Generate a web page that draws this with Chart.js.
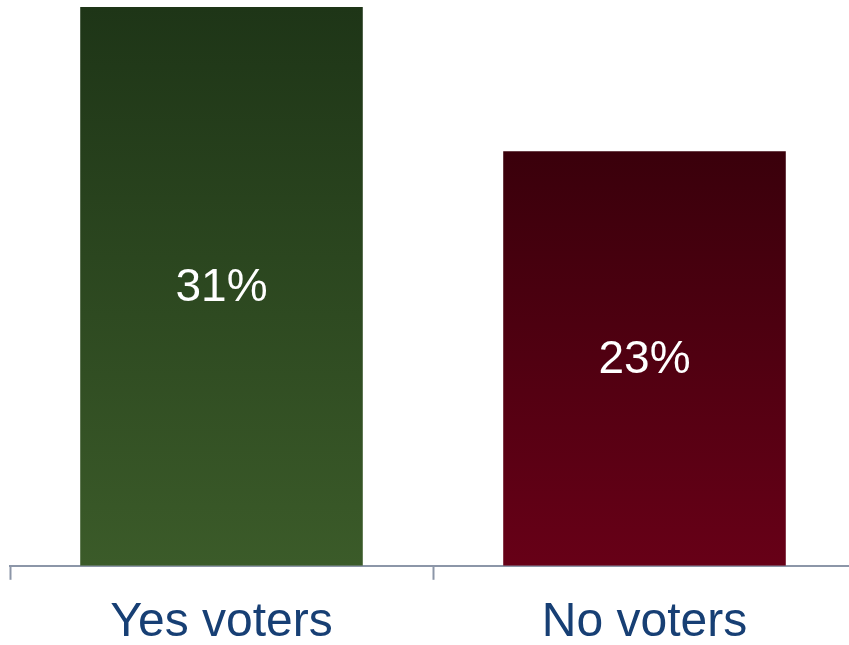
<!DOCTYPE html>
<html><head><meta charset="utf-8">
<script src="https://cdn.jsdelivr.net/npm/chart.js@4"></script>
<style>
html,body{margin:0;padding:0;background:#fff;overflow:hidden;width:849px;height:645px;}
#wrap{position:relative;width:860px;height:645px;}
</style></head>
<body>
<div id="wrap"><canvas id="c" width="860" height="645"></canvas></div>
<script>
const categories = ["Yes voters", "No voters"];
const values = [31, 23];
const valueLabels = ["31%", "23%"];
const topColors = ["#1e3517", "#3a000b"];
const bottomColors = ["#3b5b29", "#670017"];

function grad(ctx, i) {
  const area = ctx.chart.chartArea;
  if (!area) return bottomColors[i];
  const y = ctx.chart.scales.y;
  const top = y.getPixelForValue(values[i]);
  const g = ctx.chart.ctx.createLinearGradient(0, top, 0, area.bottom);
  g.addColorStop(0, topColors[i]);
  g.addColorStop(1, bottomColors[i]);
  return g;
}

const labelPlugin = {
  id: 'inlabels',
  afterDatasetsDraw(chart) {
    const c = chart.ctx;
    const meta = chart.getDatasetMeta(0);
    c.save();
    c.fillStyle = '#ffffff';
    c.font = '46px "Liberation Sans", Arial, sans-serif';
    c.textAlign = 'center';
    c.textBaseline = 'middle';
    meta.data.forEach((bar, i) => {
      c.fillText(valueLabels[i], bar.x, (bar.y + bar.base) / 2 + 2);
    });
    c.restore();
  }
};

new Chart(document.getElementById('c'), {
  type: 'bar',
  data: {
    labels: categories,
    datasets: [{
      data: values,
      backgroundColor: (ctx) => grad(ctx, ctx.dataIndex),
      borderWidth: 0,
      categoryPercentage: 1,
      barPercentage: 0.668
    }]
  },
  options: {
    responsive: false,
    animation: false,
    events: [],
    layout: { padding: { top: 7, left: 10, right: 4, bottom: -20 } },
    plugins: { legend: { display: false }, tooltip: { enabled: false } },
    scales: {
      x: {
        offset: true,
        grid: {
          offset: true,
          drawOnChartArea: false,
          drawTicks: true,
          tickLength: 14,
          tickWidth: 2,
          tickColor: '#8c96a8'
        },
        border: { display: true, color: '#8c96a8', width: 2 },
        ticks: {
          color: '#173f74',
          font: { family: '"Liberation Sans", Arial, sans-serif', size: 48, lineHeight: 0.9 },
          padding: 21
        }
      },
      y: {
        display: false,
        min: 0,
        max: 31
      }
    }
  },
  plugins: [labelPlugin]
});
</script>
</body></html>
